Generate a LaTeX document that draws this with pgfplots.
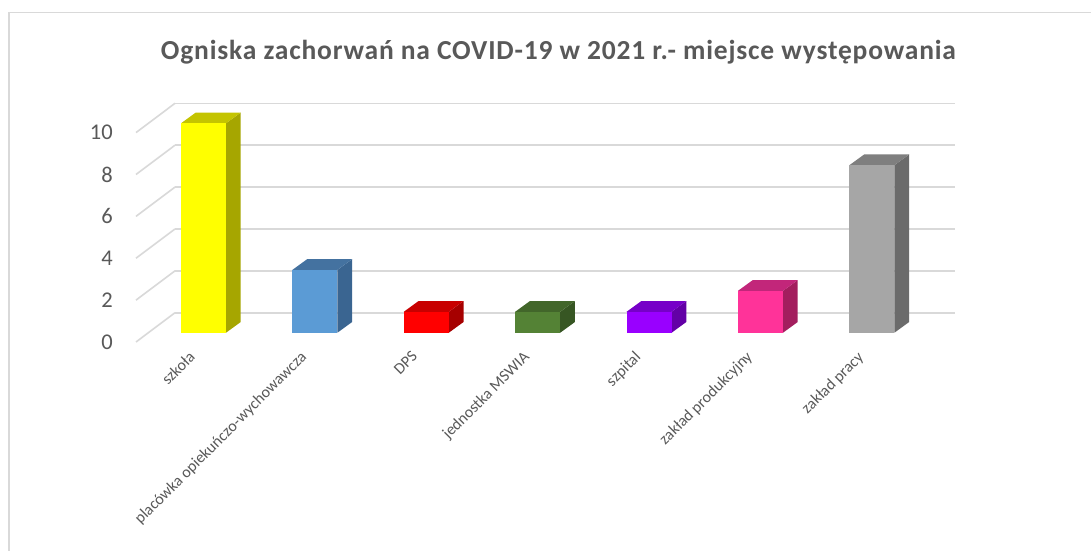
\documentclass[border=0pt]{standalone}
\usepackage{fontspec}
\setmainfont{Carlito}
\newfontfamily\titlefont[LetterSpace=3]{Carlito}
\usepackage{pgfplots}
\usepackage{pgfplotstable}
\pgfplotsset{compat=1.18}
\definecolor{txt}{HTML}{595959}
\definecolor{gridc}{HTML}{D9D9D9}
\definecolor{yF}{HTML}{FFFF00}\definecolor{yS}{HTML}{A6A600}\definecolor{yT}{HTML}{C4C400}
\definecolor{bF}{HTML}{5B9BD5}\definecolor{bS}{HTML}{3A6591}\definecolor{bT}{HTML}{4472A0}
\definecolor{rF}{HTML}{FF0000}\definecolor{rS}{HTML}{A60000}\definecolor{rT}{HTML}{C80000}
\definecolor{gF}{HTML}{548235}\definecolor{gS}{HTML}{375623}\definecolor{gT}{HTML}{42662A}
\definecolor{pF}{HTML}{9900FF}\definecolor{pS}{HTML}{6300A6}\definecolor{pT}{HTML}{7600C8}
\definecolor{kF}{HTML}{FF3399}\definecolor{kS}{HTML}{A31E5E}\definecolor{kT}{HTML}{C2267A}
\definecolor{aF}{HTML}{A6A6A6}\definecolor{aS}{HTML}{6B6B6B}\definecolor{aT}{HTML}{7F7F7F}
% unit shapes of the side and top faces: x = i + a, y = value*b + c
\pgfplotstableread{
a b c
0.202 0 0
0.334 0 0.511
0.334 1 0.511
0.202 1 0
}\sideshape
\pgfplotstableread{
a b c
-0.202 1 0
0.202 1 0
0.334 1 0.511
-0.070 1 0.511
}\topshape
\newcommand{\threedbar}[5]{%
  \addplot[fill=#4, draw=none] table[x expr={#1+\thisrow{a}}, y expr={#2*\thisrow{b}+\thisrow{c}}] {\sideshape};
  \addplot[fill=#5, draw=none] table[x expr={#1+\thisrow{a}}, y expr={#2*\thisrow{b}+\thisrow{c}}] {\topshape};
  \addplot[ybar, bar width=0.404, fill=#3, draw=none] coordinates {(#1,#2)};
}
\begin{document}
\begin{tikzpicture}
\path[use as bounding box] (0,0) rectangle (1091bp,551bp);
\fill[white] (0,0) rectangle (1091bp,551bp);
\draw[gridc, line width=1.3bp] (9bp,0) -- (9bp,538.3bp) -- (1091bp,538.3bp);
\node[anchor=base, font=\titlefont\bfseries\fontsize{27.5bp}{30bp}\selectfont, text=txt] at (558.5bp,491.5bp)
  {Ogniska zachorwań na COVID-19 w 2021 r.- miejsce występowania};
\begin{axis}[
  at={(175bp,209bp)}, anchor=south west,
  x=111.4bp, y=20.94bp,
  xmin=-0.256, xmax=6.746, ymin=-0.444, ymax=11.2,
  clip=false,
  axis lines*=left, axis line style={draw=none},
  tick style={draw=none},
  ymajorgrids, grid style={gridc, line width=1.6bp},
  ytick={0.955,2.955,4.955,6.955,8.955,10.955},
  yticklabels={0,2,4,6,8,10},
  xtick={0,1,2,3,4,5,6},
  xticklabels={szkoła,placówka opiekuńczo-wychowawcza,DPS,jednostka MSWIA,szpital,zakład produkcyjny,zakład pracy},
  yticklabel style={anchor=east, inner sep=0pt, xshift=-62bp, yshift=-29.3bp, font=\fontsize{22.5bp}{24bp}\selectfont, text=txt},
  xticklabel style={inner sep=0pt, xshift=-15.5bp, yshift=-8bp, rotate=45, anchor=north east, font=\fontsize{16bp}{18bp}\selectfont, text=txt},
  /pgf/number format/assume math mode=true,
]
% side wall diagonals
\addplot[gridc, line width=1.6bp] coordinates {(-0.606,-0.444) (-0.256,0.955)};
\addplot[gridc, line width=1.6bp] coordinates {(-0.606,1.556) (-0.256,2.955)};
\addplot[gridc, line width=1.6bp] coordinates {(-0.606,3.556) (-0.256,4.955)};
\addplot[gridc, line width=1.6bp] coordinates {(-0.606,5.556) (-0.256,6.955)};
\addplot[gridc, line width=1.6bp] coordinates {(-0.606,7.556) (-0.256,8.955)};
\addplot[gridc, line width=1.6bp] coordinates {(-0.606,9.556) (-0.256,10.955)};
% bars: position, value, front, side, top
\threedbar{0}{10}{yF}{yS}{yT}
\threedbar{1}{3}{bF}{bS}{bT}
\threedbar{2}{1}{rF}{rS}{rT}
\threedbar{3}{1}{gF}{gS}{gT}
\threedbar{4}{1}{pF}{pS}{pT}
\threedbar{5}{2}{kF}{kS}{kT}
\threedbar{6}{8}{aF}{aS}{aT}
\end{axis}
\end{tikzpicture}
\end{document}
